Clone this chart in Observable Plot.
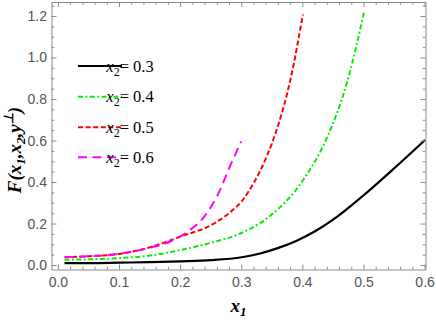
<!DOCTYPE html>
<html>
<head>
<meta charset="utf-8">
<script src="https://cdn.jsdelivr.net/npm/d3@7"></script>
<script src="https://cdn.jsdelivr.net/npm/@observablehq/plot@0.6"></script>
<style>
  html, body { margin: 0; padding: 0; background: #fff; }
  #chart { position: relative; width: 436px; height: 327px; }
  .serif-t, .serif-t tspan { font-family: 'Liberation Serif', 'Times New Roman', serif !important; }
</style>
</head>
<body>
<div id="chart"></div>
<script>
// ---- data ----
const x_03 = [0.01, 0.05, 0.1, 0.15, 0.2, 0.25, 0.3, 0.33, 0.36, 0.39, 0.42, 0.45, 0.5, 0.55, 0.6];
const F_03 = [0.012, 0.012, 0.014, 0.016, 0.02, 0.026, 0.04, 0.058, 0.085, 0.12, 0.165, 0.222, 0.34, 0.47, 0.605];

const x_04 = [0.01, 0.05, 0.1, 0.15, 0.2, 0.25, 0.3, 0.35, 0.4, 0.44, 0.4725, 0.5];
const F_04 = [0.028, 0.03, 0.036, 0.048, 0.075, 0.11, 0.158, 0.248, 0.41, 0.62, 0.884, 1.22];

const x_05 = [0.01, 0.05, 0.1, 0.15, 0.2, 0.25, 0.281, 0.3, 0.32, 0.34, 0.36, 0.38, 0.4];
const F_05 = [0.04, 0.045, 0.056, 0.088, 0.14, 0.195, 0.257, 0.31, 0.4, 0.52, 0.68, 0.9, 1.21];

const x_06 = [0.01, 0.05, 0.1, 0.15, 0.183, 0.21, 0.238, 0.26, 0.281, 0.299];
const F_06 = [0.04, 0.045, 0.057, 0.086, 0.116, 0.16, 0.233, 0.337, 0.48, 0.598];

const seriesLabels = ["0.3", "0.4", "0.5", "0.6"];
const xTicks = [0, 0.1, 0.2, 0.3, 0.4, 0.5, 0.6];
const yTicks = [0, 0.2, 0.4, 0.6, 0.8, 1.0, 1.2];
const xMinor = d3.range(0, 31).map(i => +(i * 0.02).toFixed(2)).filter(v => !xTicks.some(t => Math.abs(t - v) < 1e-9));
const yMinor = d3.range(0, 26).map(i => +(i * 0.05).toFixed(2)).filter(v => !yTicks.some(t => Math.abs(t - v) < 1e-9));

// ---- styles ----
const colors = ["#000000", "#00ee00", "#ff0000", "#ff00ff"];
const dashes = [null, "5,2.5,1.8,2.5", "5,2.6", "9,5.5"];
const widths = [2.2, 2, 2, 2];

const W = 436, H = 327;
const mL = 51.5, mR = 10.5, mT = 2, mB = 57.5;
const innerH = H - mT - mB, innerW = W - mL - mR;

const series = [[x_03, F_03], [x_04, F_04], [x_05, F_05], [x_06, F_06]];
const table = series.flatMap(([xs, ys], k) => xs.map((x, i) => ({x, y: ys[i], k})));

const frameColor = "#8a8a8a";
const lineMarks = series.map((s, k) =>
  Plot.line(table.filter(d => d.k === k), {
    x: "x", y: "y", stroke: colors[k], strokeWidth: widths[k],
    strokeDasharray: dashes[k], curve: "monotone-x", strokeLinecap: "butt"
  })
);

const tickMarks = [
  Plot.tickX(xTicks, {x: d => d, stroke: frameColor, insetTop: innerH - 5}),
  Plot.tickX(xTicks, {x: d => d, stroke: frameColor, insetBottom: innerH - 5}),
  Plot.tickX(xMinor, {x: d => d, stroke: frameColor, insetTop: innerH - 2.8}),
  Plot.tickX(xMinor, {x: d => d, stroke: frameColor, insetBottom: innerH - 2.8}),
  Plot.tickY(yTicks, {y: d => d, stroke: frameColor, insetRight: innerW - 5}),
  Plot.tickY(yTicks, {y: d => d, stroke: frameColor, insetLeft: innerW - 5}),
  Plot.tickY(yMinor, {y: d => d, stroke: frameColor, insetRight: innerW - 2.8}),
  Plot.tickY(yMinor, {y: d => d, stroke: frameColor, insetLeft: innerW - 2.8})
];

const svg = Plot.plot({
  width: W, height: H,
  marginLeft: mL, marginRight: mR, marginTop: mT, marginBottom: mB,
  style: {background: "#fff", color: "#555", fontFamily: "'Liberation Sans', Arial, sans-serif", fontSize: "14px"},
  x: {domain: [-0.0105, 0.6015], axis: null},
  y: {domain: [-0.0215, 1.2675], axis: null},
  marks: [
    ...lineMarks,
    Plot.frame({stroke: frameColor, strokeWidth: 1}),
    ...tickMarks,
    Plot.axisX(xTicks, {tickSize: 0, tickPadding: 7, tickFormat: d3.format(".1f"), fontSize: 14, fill: "#555", label: null}),
    Plot.axisY(yTicks, {tickSize: 0, tickPadding: 5, tickFormat: d3.format(".1f"), fontSize: 14, fill: "#555", label: null})
  ]
});

document.getElementById("chart").appendChild(svg);

// ---- axis titles and legend (text with subscripts) ----
const sel = d3.select(svg);

const xt = sel.append("text").attr("class", "serif-t")
  .attr("x", mL + innerW / 2).attr("y", 312)
  .attr("text-anchor", "middle")
  .style("font-size", "19px")
  .style("font-weight", "bold").style("font-style", "italic").attr("fill", "#000");
xt.append("tspan").text("x");
xt.append("tspan").attr("dy", 4).style("font-size", "13px").text("1");

const yt = sel.append("text").attr("class", "serif-t")
  .attr("transform", "translate(21,150) rotate(-90)")
  .attr("text-anchor", "middle")
  .style("font-size", "19px")
  .style("font-weight", "bold").style("font-style", "italic").attr("fill", "#000");
yt.append("tspan").text("F(x");
yt.append("tspan").attr("dy", 4).style("font-size", "13px").text("1");
yt.append("tspan").attr("dy", -4).text(",x");
yt.append("tspan").attr("dy", 4).style("font-size", "13px").text("2");
yt.append("tspan").attr("dy", -4).text(",y");
yt.append("tspan").attr("dy", -8).style("font-size", "13px").text("\u22A5");
yt.append("tspan").attr("dy", 8).text(")");

const legY = [66, 96.7, 127.3, 157.3];
seriesLabels.forEach((lab, k) => {
  const g = sel.append("g");
  g.append("line")
    .attr("x1", 78).attr("x2", 122).attr("y1", legY[k]).attr("y2", legY[k])
    .attr("stroke", colors[k]).attr("stroke-width", widths[k])
    .attr("stroke-dasharray", dashes[k]);
  const t = g.append("text").attr("class", "serif-t")
    .attr("x", 130).attr("y", legY[k] + 5.5)
    .style("font-size", "16.5px").attr("fill", "#000");
  t.append("tspan").style("font-style", "italic").text("x");
  t.append("tspan").attr("dy", 4).style("font-size", "12px").text("2");
  t.append("tspan").attr("dy", -4).text("= " + lab);
});
</script>
</body>
</html>
